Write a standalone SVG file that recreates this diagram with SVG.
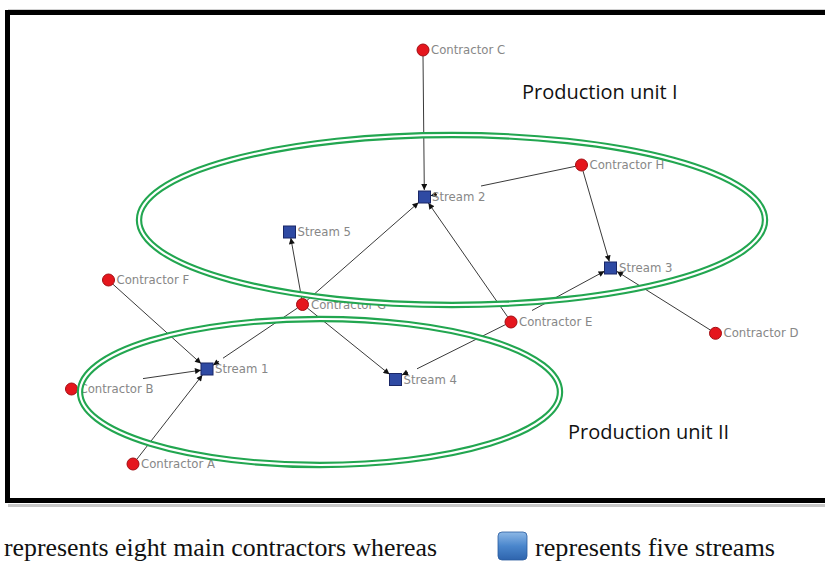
<svg xmlns="http://www.w3.org/2000/svg" width="825" height="568" viewBox="0 0 825 568">
<defs>
<style>
.lbl{font-family:"DejaVu Sans",Verdana,sans-serif;font-size:11.7px;fill:#878787}
.ttl{font-family:"Open Sans","Liberation Sans",sans-serif;font-size:20px;fill:#111}
.cap{font-family:"Liberation Serif","Times New Roman",serif;font-size:25px;fill:#111}
.edge{stroke:#3a3a3a;stroke-width:1;fill:none}
.arr{marker-end:url(#ah)}
.ctr{fill:#e5161d;stroke:#a30d12;stroke-width:1}
.str{fill:#2f4aa3;stroke:#1a2766;stroke-width:1}
.eo{fill:none;stroke:#22a650;stroke-width:6.4}
.ei{fill:none;stroke:#ffffff;stroke-width:2.2}
</style>
<marker id="ah" viewBox="0 0 10 10" refX="10" refY="5" markerWidth="7" markerHeight="6" markerUnits="userSpaceOnUse" orient="auto">
<path d="M0,0 L10,5 L0,10 z" fill="#111"/>
</marker>
<linearGradient id="bg" x1="0" y1="0" x2="0" y2="1">
<stop offset="0" stop-color="#8db8e6"/>
<stop offset="0.5" stop-color="#4a86cc"/>
<stop offset="1" stop-color="#2e64ad"/>
</linearGradient>
</defs>
<rect x="0" y="0" width="825" height="568" fill="#ffffff"/>
<!-- frame -->
<line x1="8" y1="505.5" x2="825" y2="505.5" stroke="#c8c8c8" stroke-width="3"/>
<line x1="8" y1="9.5" x2="825" y2="9.5" stroke="#d0d0d0" stroke-width="1"/>
<rect x="7.5" y="12.5" width="840" height="488" fill="#ffffff" stroke="#000" stroke-width="5"/>

<g id="connectors">
<line class="edge arr" x1="423" y1="56" x2="424.3" y2="190"/>
<line class="edge" x1="481" y1="186" x2="575.5" y2="166.3"/>
<line class="edge arr" x1="437" y1="194.4" x2="430.5" y2="195.7"/>
<line class="edge arr" x1="583" y1="171" x2="609.3" y2="261.5"/>
<line class="edge arr" x1="507.6" y1="316.8" x2="428.4" y2="203"/>
<line class="edge arr" x1="306.8" y1="300.6" x2="418.5" y2="202.6"/>
<line class="edge arr" x1="301.7" y1="298.5" x2="290.8" y2="238"/>
<line class="edge arr" x1="307.3" y1="308" x2="389.5" y2="374.3"/>
<line class="edge" x1="223" y1="358.2" x2="297.5" y2="308"/>
<line class="edge arr" x1="219" y1="361.2" x2="213" y2="365.2"/>
<line class="edge" x1="417" y1="368.8" x2="505.5" y2="324.6"/>
<line class="edge arr" x1="408" y1="372.1" x2="402" y2="375.1"/>
<line class="edge arr" x1="532" y1="310.5" x2="604.5" y2="271.2"/>
<line class="edge arr" x1="710.6" y1="330.2" x2="617" y2="271.5"/>
<line class="edge arr" x1="112.7" y1="284" x2="201" y2="363.5"/>
<line class="edge arr" x1="143" y1="378.6" x2="201" y2="370.2"/>
<line class="edge arr" x1="136.8" y1="459.3" x2="202.4" y2="375"/>
</g>

<g id="contractor-c"><circle class="ctr" cx="423" cy="50" r="6"/><text class="lbl" x="431" y="54">Contractor C</text></g>
<g id="contractor-h"><circle class="ctr" cx="581.5" cy="165" r="6"/><text class="lbl" x="589.5" y="169">Contractor H</text></g>
<g id="contractor-f"><circle class="ctr" cx="108.5" cy="280" r="6"/><text class="lbl" x="116.5" y="284">Contractor F</text></g>
<g id="contractor-g"><circle class="ctr" cx="302.5" cy="304.5" r="6"/><text class="lbl" x="311" y="308.5">Contractor G</text></g>
<g id="contractor-e"><circle class="ctr" cx="511" cy="322" r="6"/><text class="lbl" x="519" y="326">Contractor E</text></g>
<g id="contractor-d"><circle class="ctr" cx="715.5" cy="333.3" r="6"/><text class="lbl" x="723.5" y="337.3">Contractor D</text></g>
<g id="contractor-b"><circle class="ctr" cx="71.5" cy="389" r="6"/><text class="lbl" x="79.5" y="393">Contractor B</text></g>
<g id="contractor-a"><circle class="ctr" cx="133" cy="464" r="6"/><text class="lbl" x="141" y="468">Contractor A</text></g>

<g id="stream-2"><rect class="str" x="418.5" y="191" width="12" height="12"/><text class="lbl" x="432" y="201">Stream 2</text></g>
<g id="stream-3"><rect class="str" x="604.5" y="262" width="12" height="12"/><text class="lbl" x="619" y="272">Stream 3</text></g>
<g id="stream-5"><rect class="str" x="283.5" y="226" width="12" height="12"/><text class="lbl" x="297.5" y="236">Stream 5</text></g>
<g id="stream-1"><rect class="str" x="201" y="363" width="12" height="12"/><text class="lbl" x="215" y="373">Stream 1</text></g>
<g id="stream-4"><rect class="str" x="389.5" y="373.5" width="12" height="12"/><text class="lbl" x="403.5" y="383.5">Stream 4</text></g>

<g id="production-unit-1">
<ellipse class="eo" cx="452" cy="220" rx="313" ry="85"/>
<ellipse class="ei" cx="452" cy="220" rx="313" ry="85"/>
<text class="ttl" x="522" y="99">Production unit I</text>
</g>
<g id="production-unit-2">
<ellipse class="eo" cx="320" cy="392" rx="240" ry="73"/>
<ellipse class="ei" cx="320" cy="392" rx="240" ry="73"/>
<text class="ttl" x="568" y="439">Production unit II</text>
</g>

<g id="legend">
<text class="cap" x="4" y="556" textLength="433" lengthAdjust="spacingAndGlyphs">represents eight main contractors whereas</text>
<rect x="498" y="532" width="29" height="28" rx="4" fill="url(#bg)" stroke="#2a5c9e" stroke-width="0.8"/>
<text class="cap" x="535" y="556" textLength="240" lengthAdjust="spacingAndGlyphs">represents five streams</text>
</g>
</svg>
